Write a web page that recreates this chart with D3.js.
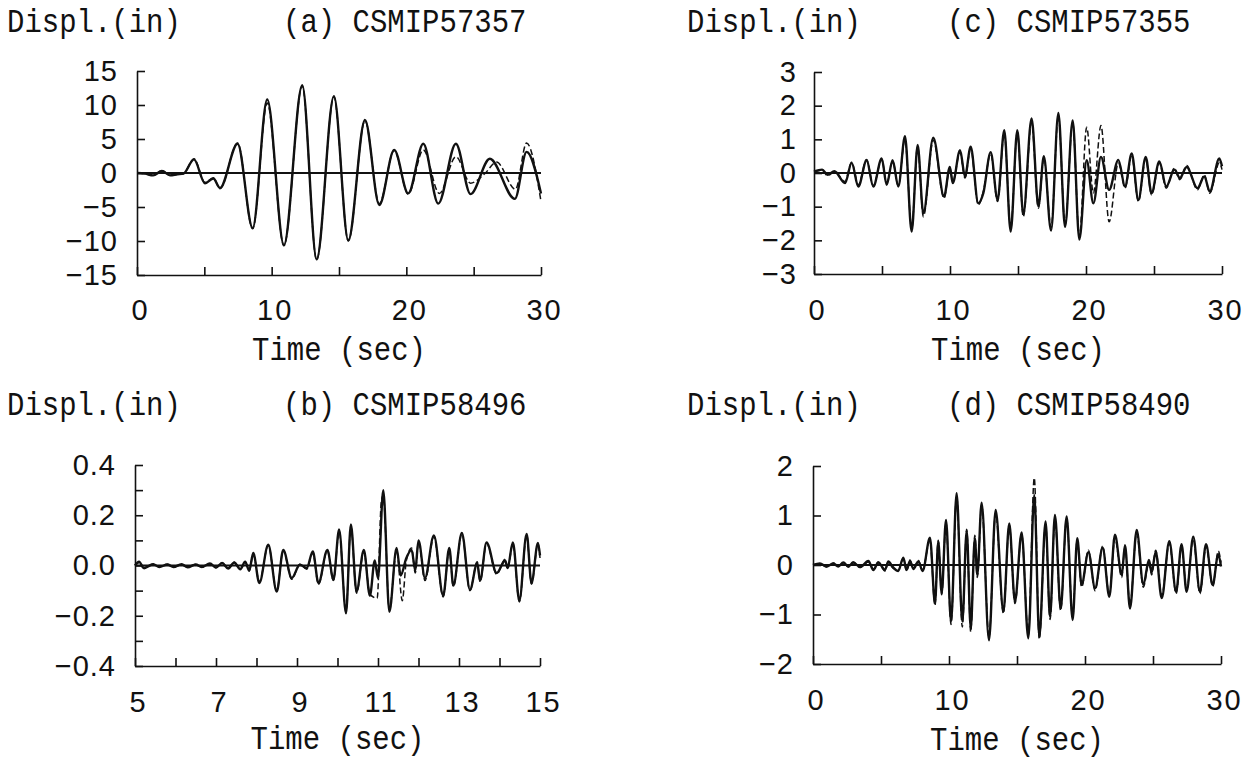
<!DOCTYPE html>
<html>
<head>
<meta charset="utf-8">
<script src="https://cdn.jsdelivr.net/npm/d3@7"></script>
<style>
  body { margin: 0; background: #fff; }
  svg { display: block; }
</style>
</head>
<body>
<script>
// ---- values ----
// (a) CSMIP57357
const aTimeRec = [0, 0.6, 1.2, 1.85, 2.45, 3.0, 3.45, 4.23, 5.05, 5.67, 6.16, 7.47, 8.59, 9.67, 10.91, 12.27, 13.34, 14.62, 15.69, 16.93, 17.99, 19.1, 20.14, 21.26, 22.37, 23.68, 24.77, 26.2, 28.06, 28.93, 30];
const aDispRec = [0, -0.1, -0.35, 0.3, -0.35, -0.2, -0.1, 2.0, -1.5, -0.8, -2.2, 4.3, -8.1, 10.8, -10.6, 12.9, -12.7, 11.3, -9.9, 7.8, -4.7, 3.4, -3.0, 4.3, -4.5, 4.3, -3.1, 2.1, -3.8, 3.1, -3.0];
const aTimeCalc = [0, 0.6, 1.2, 1.85, 2.45, 3.0, 3.45, 4.23, 5.05, 5.67, 6.16, 7.47, 8.59, 9.67, 10.91, 12.27, 13.34, 14.62, 15.69, 16.93, 17.99, 19.1, 20.14, 21.26, 22.45, 23.68, 24.77, 25.8, 26.7, 28.1, 28.93, 30];
const aDispCalc = [0, -0.1, -0.3, 0.35, -0.3, -0.2, -0.1, 2.1, -1.4, -0.7, -2.3, 4.4, -8.2, 10.3, -10.7, 12.8, -12.8, 11.2, -10.0, 7.7, -4.5, 3.3, -3.1, 3.4, -3.0, 2.4, -1.5, -0.15, 1.6, -2.4, 4.4, -4.2];
const aXTicks = [0, 5, 10, 15, 20, 25, 30];
const aYTicks = [-15, -10, -5, 0, 5, 10, 15];

// (b) CSMIP58496
const bTimeRec = [5.0, 5.1, 5.22, 5.45, 5.6, 5.8, 5.95, 6.15, 6.3, 6.5, 6.65, 6.85, 7.0, 7.15, 7.3, 7.45, 7.6, 7.72, 7.82, 7.92, 8.07, 8.29, 8.5, 8.66, 8.87, 9.07, 9.24, 9.39, 9.53, 9.75, 9.9, 10.04, 10.21, 10.33, 10.47, 10.65, 10.8, 10.92, 11.0, 11.13, 11.28, 11.46, 11.56, 11.7, 11.83, 11.92, 12.0, 12.16, 12.38, 12.61, 12.76, 12.86, 13.07, 13.27, 13.45, 13.52, 13.68, 13.93, 14.14, 14.2, 14.33, 14.49, 14.67, 14.79, 14.95, 15.0];
const bDispRec = [0, 0.015, -0.01, 0.005, -0.006, 0.004, -0.006, 0.005, -0.007, 0.004, -0.006, 0.008, -0.008, 0.01, -0.012, 0.012, -0.015, 0.015, -0.02, 0.05, -0.07, 0.083, -0.104, 0.062, -0.05, 0.003, -0.01, 0.056, -0.07, 0.062, -0.057, 0.143, -0.19, 0.163, -0.104, 0.062, -0.12, 0.02, -0.05, 0.3, -0.184, 0.07, -0.04, 0.03, 0.062, -0.02, 0.1, -0.05, 0.12, -0.12, 0.07, -0.08, 0.13, -0.097, 0.01, -0.06, 0.092, -0.03, 0.02, -0.01, 0.092, -0.14, 0.126, -0.07, 0.09, 0.04];
const bTimeCalc = [5.0, 5.1, 5.22, 5.45, 5.6, 5.8, 5.95, 6.15, 6.3, 6.5, 6.65, 6.85, 7.0, 7.15, 7.3, 7.45, 7.6, 7.72, 7.82, 7.92, 8.07, 8.29, 8.5, 8.66, 8.87, 9.07, 9.24, 9.39, 9.53, 9.75, 9.9, 10.04, 10.21, 10.33, 10.47, 10.65, 10.8, 10.98, 11.08, 11.13, 11.28, 11.46, 11.6, 11.7, 11.83, 11.92, 12.0, 12.16, 12.38, 12.61, 12.76, 12.86, 13.07, 13.27, 13.45, 13.52, 13.68, 13.93, 14.14, 14.2, 14.33, 14.49, 14.67, 14.79, 14.95, 15.0];
const bDispCalc = [0, 0.012, -0.012, 0.006, -0.005, 0.005, -0.007, 0.004, -0.006, 0.005, -0.007, 0.007, -0.009, 0.011, -0.011, 0.013, -0.014, 0.014, -0.022, 0.045, -0.065, 0.08, -0.1, 0.06, -0.055, 0.005, -0.015, 0.05, -0.075, 0.06, -0.06, 0.135, -0.18, 0.155, -0.11, 0.055, -0.115, -0.13, 0.25, 0.28, -0.175, 0.06, -0.14, 0.02, 0.07, -0.03, 0.095, -0.06, 0.115, -0.125, 0.065, -0.085, 0.125, -0.1, 0.015, -0.065, 0.088, -0.035, 0.025, -0.015, 0.088, -0.145, 0.12, -0.075, 0.085, 0.03];
const bXTicks = [5, 6, 7, 8, 9, 10, 11, 12, 13, 14, 15];
const bYTicks = [-0.4, -0.3, -0.2, -0.1, 0, 0.1, 0.2, 0.3, 0.4];

// (c) CSMIP57355
const cTimeRec = [0, 0.6, 1.0, 1.5, 2.28, 2.77, 3.26, 3.87, 4.36, 4.98, 5.34, 5.78, 6.2, 6.69, 7.18, 7.62, 8.04, 8.77, 9.56, 9.99, 10.2, 10.74, 11.1, 11.52, 12.08, 12.45, 12.99, 13.5, 13.99, 14.46, 14.95, 15.39, 16.0, 16.5, 16.9, 17.43, 17.97, 18.46, 19.02, 19.51, 20.05, 20.54, 21.1, 21.7, 22.38, 22.87, 23.36, 23.85, 24.39, 24.82, 25.39, 25.9, 26.5, 26.9, 27.4, 28.2, 28.7, 29.1, 29.8, 30];
const cDispRec = [0.05, 0.1, -0.05, 0.05, -0.3, 0.3, -0.4, 0.38, -0.4, 0.43, -0.35, 0.38, -0.4, 1.09, -1.74, 0.83, -1.2, 1.05, -0.7, 0.18, -0.3, 0.68, -0.1, 0.78, -0.9, -0.6, 0.62, -0.8, 1.27, -1.74, 1.27, -1.23, 1.62, -0.99, 0.5, -1.71, 1.78, -1.6, 1.56, -1.98, 0.38, -0.9, 0.48, -0.5, 0.39, -0.4, 0.58, -0.8, 0.48, -0.6, 0.34, -0.4, 0.1, -0.15, 0.18, -0.45, -0.1, -0.55, 0.43, 0.2];
const cTimeCalc = cTimeRec;
const cDispCalc = [0.02, 0.08, -0.08, 0.04, -0.25, 0.32, -0.35, 0.4, -0.38, 0.4, -0.3, 0.35, -0.38, 1.0, -1.65, 0.78, -1.3, 0.98, -0.75, 0.15, -0.25, 0.62, -0.15, 0.72, -0.95, -0.55, 0.58, -0.85, 1.2, -1.65, 1.22, -1.3, 1.5, -1.05, 0.45, -1.62, 1.7, -1.55, 1.5, -1.9, 1.36, -0.6, 1.41, -1.45, 0.3, -0.45, 0.5, -0.85, 0.42, -0.65, 0.3, -0.45, 0.15, -0.2, 0.22, -0.5, -0.05, -0.6, 0.3, 0.1];
const cXTicks = [0, 5, 10, 15, 20, 25, 30];
const cYTicks = [-3, -2, -1, 0, 1, 2, 3];

// (d) CSMIP58490
const dTimeRec = [0, 0.51, 1.0, 1.5, 1.86, 2.23, 2.6, 2.96, 3.46, 4.07, 4.44, 4.8, 5.29, 5.54, 5.9, 6.27, 6.64, 6.88, 7.13, 7.38, 7.75, 8.06, 8.6, 8.97, 9.21, 9.46, 9.78, 10.15, 10.56, 10.98, 11.3, 11.6, 11.9, 12.08, 12.4, 12.94, 13.43, 14.0, 14.43, 14.85, 15.34, 15.83, 16.27, 16.64, 17.1, 17.43, 17.79, 18.21, 18.65, 19.09, 19.43, 19.75, 20.25, 20.74, 21.3, 21.79, 22.2, 22.7, 22.94, 23.31, 23.8, 24.29, 24.7, 24.9, 25.2, 25.64, 26.2, 26.7, 27.1, 27.47, 27.96, 28.45, 28.9, 29.39, 29.8, 30];
const dDispRec = [0, 0.03, -0.03, 0.03, -0.03, 0.05, -0.03, 0.05, -0.04, 0.08, -0.1, 0.05, -0.1, 0.07, -0.05, -0.12, 0.15, -0.1, 0.08, -0.08, 0.07, -0.12, 0.55, -0.77, 0.47, -0.57, 0.91, -1.14, 1.45, -1.14, 0.69, -1.28, 0.54, -0.2, 1.26, -1.52, 1.11, -0.94, 0.84, -0.74, 0.66, -1.48, 1.41, -1.45, 0.88, -1.04, 1.01, -0.88, 0.98, -1.11, 0.54, -0.4, 0.26, -0.47, 0.35, -0.64, 0.61, -0.2, 0.4, -0.88, 0.71, -0.4, 0.1, -0.15, 0.27, -0.67, 0.48, -0.54, 0.42, -0.54, 0.57, -0.54, 0.42, -0.4, 0.22, -0.03];
const dTimeCalc = dTimeRec;
const dDispCalc = [0, 0.02, -0.04, 0.04, -0.02, 0.04, -0.04, 0.06, -0.05, 0.06, -0.08, 0.06, -0.12, 0.05, -0.07, -0.1, 0.12, -0.12, 0.1, -0.06, 0.09, -0.1, 0.5, -0.82, 0.5, -0.6, 0.85, -1.2, 1.4, -1.25, 0.72, -1.35, 0.6, -0.25, 1.2, -1.45, 1.05, -0.98, 0.8, -0.78, 0.62, -1.42, 1.76, -1.5, 0.82, -1.1, 0.95, -0.92, 0.94, -1.05, 0.5, -0.45, 0.3, -0.52, 0.38, -0.6, 0.55, -0.25, 0.36, -0.82, 0.65, -0.45, 0.05, -0.2, 0.3, -0.62, 0.44, -0.58, 0.38, -0.5, 0.52, -0.58, 0.38, -0.44, 0.28, 0.05];
const dXTicks = [0, 5, 10, 15, 20, 25, 30];
const dYTicks = [-2, -1, 0, 1, 2];

const yTitle = 'Displ.(in)';
const xTitle = 'Time (sec)';

// ---- drawing ----
const monoFont = '"Liberation Mono", "Courier New", monospace';
const tickFont = '"Liberation Sans", Arial, sans-serif';
const ink = '#111';

const svg = d3.select('body')
  .append('svg')
  .attr('width', 1245)
  .attr('height', 759);

const panels = [
  {tag: '(a) CSMIP57357', rec: [aTimeRec, aDispRec], calc: [aTimeCalc, aDispCalc],
   xDomain: [0, 30], yDomain: [-15, 15], xTicks: aXTicks, yTicks: aYTicks, xEvery: 2, yEvery: 1, yFmt: d3.format('d'),
   left: 137, right: 541, top: 71, bottom: 275, titleX: 7, tagX: 283, titleY: 32, yPad: 19, xLabY: 320, xTitleY: 360},
  {tag: '(b) CSMIP58496', rec: [bTimeRec, bDispRec], calc: [bTimeCalc, bDispCalc],
   xDomain: [5, 15], yDomain: [-0.4, 0.4], xTicks: bXTicks, yTicks: bYTicks, xEvery: 2, yEvery: 2, yFmt: d3.format('.1f'),
   left: 135, right: 540, top: 465, bottom: 666, titleX: 7, tagX: 283, titleY: 415, yPad: 19, xLabY: 712, xTitleY: 749},
  {tag: '(c) CSMIP57355', rec: [cTimeRec, cDispRec], calc: [cTimeCalc, cDispCalc],
   xDomain: [0, 30], yDomain: [-3, 3], xTicks: cXTicks, yTicks: cYTicks, xEvery: 2, yEvery: 1, yFmt: d3.format('d'),
   left: 814, right: 1222, top: 72, bottom: 274, titleX: 687, tagX: 947, titleY: 32, yPad: 17, xLabY: 320, xTitleY: 360},
  {tag: '(d) CSMIP58490', rec: [dTimeRec, dDispRec], calc: [dTimeCalc, dDispCalc],
   xDomain: [0, 30], yDomain: [-2, 2], xTicks: dXTicks, yTicks: dYTicks, xEvery: 2, yEvery: 1, yFmt: d3.format('d'),
   left: 813, right: 1221, top: 466, bottom: 664, titleX: 687, tagX: 947, titleY: 415, yPad: 19, xLabY: 710, xTitleY: 750}
];

// Courier text in the scan is a little taller than Liberation Mono
function monoText(g, x, y, str, anchor) {
  return g.append('text')
    .attr('transform', `translate(${x},${y}) scale(1,1.12)`)
    .attr('text-anchor', anchor || 'start')
    .attr('font-family', monoFont)
    .attr('font-size', 29)
    .attr('fill', ink)
    .text(str);
}

function drawPanel(p) {
  const x = d3.scaleLinear().domain(p.xDomain).range([p.left, p.right]);
  const y = d3.scaleLinear().domain(p.yDomain).range([p.bottom, p.top]);
  const g = svg.append('g');

  // axes: ticks point into the plot
  const yAxis = d3.axisLeft(y)
    .tickValues(p.yTicks)
    .tickSizeInner(-8)
    .tickSizeOuter(0)
    .tickPadding(p.yPad)
    .tickFormat((d, i) => i % p.yEvery === 0 ? p.yFmt(d) : '');
  const xAxis = d3.axisBottom(x)
    .tickValues(p.xTicks)
    .tickSizeInner(-8)
    .tickSizeOuter(0)
    .tickPadding(0)
    .tickFormat((d, i) => i % p.xEvery === 0 ? d3.format('d')(d) : '');

  const ya = g.append('g')
    .attr('transform', `translate(${p.left},0)`)
    .call(yAxis);
  const xa = g.append('g')
    .attr('transform', `translate(0,${p.bottom})`)
    .call(xAxis);

  [ya, xa].forEach(a => {
    a.attr('font-family', tickFont).attr('font-size', 29).style('color', ink);
    a.selectAll('path, line').attr('stroke-width', 1.6);
  });
  xa.selectAll('text').attr('y', p.xLabY - p.bottom).attr('dy', null).attr('dx', 3).attr('letter-spacing', 2);
  ya.selectAll('text').attr('letter-spacing', 1);

  // zero line
  g.append('line')
    .attr('x1', x(p.xDomain[0])).attr('x2', x(p.xDomain[1]))
    .attr('y1', y(0)).attr('y2', y(0))
    .attr('stroke', ink).attr('stroke-width', 2.2);

  const line = d3.line()
    .x(d => x(d[0]))
    .y(d => y(d[1]))
    .curve(d3.curveMonotoneX);

  g.append('path')
    .datum(d3.zip(p.rec[0], p.rec[1]))
    .attr('d', line)
    .attr('fill', 'none')
    .attr('stroke', ink)
    .attr('stroke-width', 2.4);

  g.append('path')
    .datum(d3.zip(p.calc[0], p.calc[1]))
    .attr('d', line)
    .attr('fill', 'none')
    .attr('stroke', ink)
    .attr('stroke-width', 1.5)
    .attr('stroke-dasharray', '6,3');

  // titles
  monoText(g, p.titleX, p.titleY, yTitle);
  monoText(g, p.tagX, p.titleY, p.tag);
  monoText(g, (p.left + p.right) / 2, p.xTitleY, xTitle, 'middle');
}

panels.forEach(drawPanel);
</script>
</body>
</html>
